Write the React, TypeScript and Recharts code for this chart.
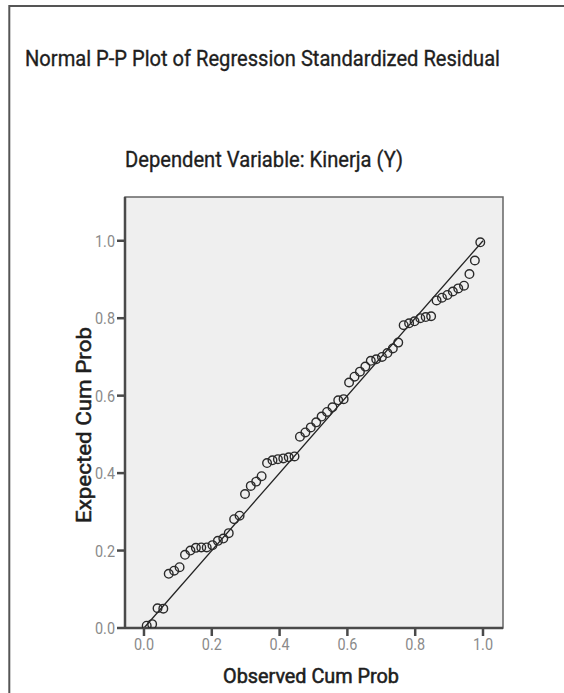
import { ScatterChart, Scatter, XAxis, YAxis, ReferenceArea, ReferenceLine } from 'recharts';

// observed cumulative probability (x) and expected cumulative probability (y)
const observed = [
    0.008, 0.024, 0.04, 0.057, 0.073, 0.089, 0.105, 0.121, 0.137, 0.153,
    0.169, 0.185, 0.202, 0.218, 0.234, 0.25, 0.266, 0.282, 0.298, 0.315,
    0.331, 0.347, 0.363, 0.379, 0.395, 0.411, 0.427, 0.444, 0.46, 0.476,
    0.492, 0.508, 0.524, 0.54, 0.556, 0.573, 0.589, 0.605, 0.621, 0.637,
    0.653, 0.669, 0.685, 0.702, 0.718, 0.734, 0.75, 0.766, 0.782, 0.798,
    0.815, 0.831, 0.847, 0.863, 0.879, 0.895, 0.911, 0.927, 0.944, 0.96,
    0.976, 0.992,
];
const expected = [
    0.006, 0.01, 0.051, 0.05, 0.14, 0.148, 0.157, 0.189, 0.2, 0.207,
    0.208, 0.208, 0.214, 0.225, 0.231, 0.245, 0.281, 0.29, 0.346, 0.367,
    0.378, 0.392, 0.426, 0.433, 0.436, 0.438, 0.441, 0.443, 0.494, 0.505,
    0.518, 0.531, 0.546, 0.558, 0.57, 0.588, 0.591, 0.634, 0.649, 0.662,
    0.675, 0.69, 0.694, 0.7, 0.71, 0.722, 0.737, 0.782, 0.787, 0.792,
    0.8, 0.803, 0.805, 0.846, 0.853, 0.86, 0.869, 0.877, 0.884, 0.914,
    0.949, 0.996,
];
const xTicks = [0, 0.2, 0.4, 0.6, 0.8, 1.0];
const yTicks = [0, 0.2, 0.4, 0.6, 0.8, 1.0];
const diagonal = [{ x: 0, y: 0 }, { x: 1, y: 1 }];
const xDomain = [-0.056, 1.059];
const yDomain = [0, 1.113];

const points = observed.map((x, i) => ({ x, y: expected[i] }));

const AXIS = '#4a4a4a';
const TICK_TEXT = '#8a8a8a';
// regular Roboto with a thin outline, to look like a medium weight
const labelStyle = { fontFamily: 'Roboto', fill: '#1e1e1e', stroke: '#1e1e1e', strokeWidth: 0.35 };

function XTick(props: any) {
    const { x, y, payload } = props;
    return (
        <text x={x} y={y + 12} textAnchor="middle" fontSize={16} fill={TICK_TEXT}
            fontFamily="Roboto" textLength={20} lengthAdjust="spacingAndGlyphs">
            {Number(payload.value).toFixed(1)}
        </text>
    );
}

function YTick(props: any) {
    const { x, y, payload } = props;
    return (
        <text x={x} y={y + 6} textAnchor="end" fontSize={16} fill={TICK_TEXT}
            fontFamily="Roboto" textLength={20} lengthAdjust="spacingAndGlyphs">
            {Number(payload.value).toFixed(1)}
        </text>
    );
}

function Ring(props: any) {
    const { cx, cy } = props;
    return <circle cx={cx} cy={cy} r={4.3} fill="none" stroke="#2a2a2a" strokeWidth={1.4} />;
}

export default function App() {
    return (
        <div style={{ position: 'fixed', left: 0, top: 0, width: 564, height: 693, background: '#fff', overflow: 'hidden' }}>
            <div style={{ position: 'absolute', left: 0, top: 0 }}>
                <ScatterChart width={564} height={693} margin={{ top: 197, right: 61, bottom: 35, left: 65 }}>
                    <ReferenceArea x1={xDomain[0]} x2={xDomain[1]} y1={yDomain[0]} y2={yDomain[1]}
                        fill="#efefef" fillOpacity={1} stroke="#666" strokeWidth={1.5} />
                    <XAxis type="number" dataKey="x" domain={xDomain} ticks={xTicks} allowDataOverflow
                        stroke={AXIS} strokeWidth={2.5} tickSize={8} tick={<XTick />} height={30} />
                    <YAxis type="number" dataKey="y" domain={yDomain} ticks={yTicks} allowDataOverflow
                        stroke={AXIS} strokeWidth={2.5} tickSize={8} tick={<YTick />} width={60} />
                    <ReferenceLine segment={diagonal} stroke="#222" strokeWidth={1.3} />
                    <Scatter data={points} shape={<Ring />} isAnimationActive={false} />
                </ScatterChart>
            </div>
            <svg width={564} height={693} style={{ position: 'absolute', left: 0, top: 0, pointerEvents: 'none' }}>
                <rect x={9.3} y={6} width={600} height={720} fill="none" stroke="#555" strokeWidth={2} />
                <text x={25} y={66} fontSize={22} style={labelStyle}
                    textLength={475} lengthAdjust="spacingAndGlyphs">
                    Normal P-P Plot of Regression Standardized Residual
                </text>
                <text x={125} y={167} fontSize={22} style={labelStyle}
                    textLength={278} lengthAdjust="spacingAndGlyphs">
                    Dependent Variable: Kinerja (Y)
                </text>
                <text x={223} y={683} fontSize={20} style={{ ...labelStyle, strokeWidth: 0.55 }}
                    textLength={176} lengthAdjust="spacingAndGlyphs">
                    Observed Cum Prob
                </text>
                <text transform="translate(91,523) rotate(-90)" fontSize={20} style={{ ...labelStyle, strokeWidth: 0.55 }}
                    textLength={196} lengthAdjust="spacingAndGlyphs">
                    Expected Cum Prob
                </text>
            </svg>
        </div>
    );
}
